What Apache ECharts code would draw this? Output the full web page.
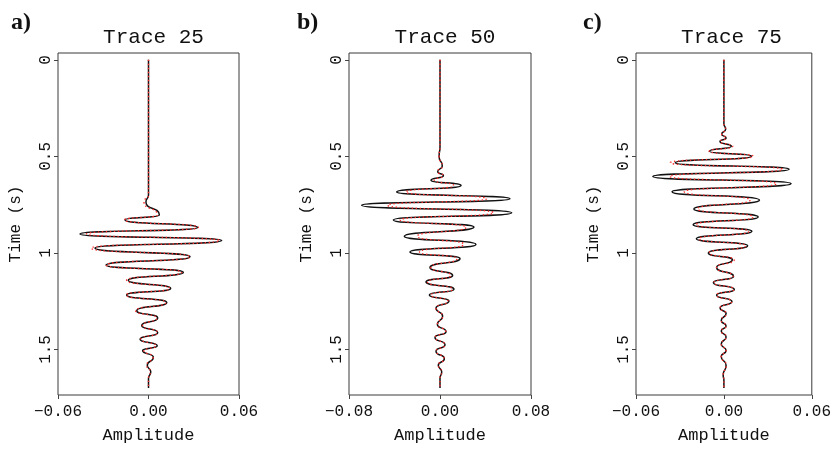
<!DOCTYPE html>
<html>
<head>
<meta charset="utf-8">
<script src="https://cdn.jsdelivr.net/npm/echarts@6/dist/echarts.min.js"></script>
<style>html,body{margin:0;padding:0;background:#fff}#c{width:834px;height:449px}</style>
</head>
<body>
<div id="c"></div>
<script>
// ---- data ----
const panelLetters = ['a)', 'b)', 'c)'];
const panelTitles = ['Trace 25', 'Trace 50', 'Trace 75'];
const timeTicks = [0, 0.5, 1, 1.5];
const ampTicksA = [-0.06, 0, 0.06];
const ampTicksB = [-0.08, 0, 0.08];
const ampTicksC = [-0.06, 0, 0.06];

const timeA = [0, 0.70, 0.736, 0.804, 0.829, 0.868, 0.902, 0.936, 0.975, 1.020, 1.063, 1.100, 1.142, 1.184, 1.218, 1.257, 1.299, 1.337, 1.376, 1.413, 1.447, 1.481, 1.506, 1.540, 1.582, 1.616, 1.65, 1.70];
const ampA  = [0, 0, -0.0017, 0.0072, -0.0156, 0.0326, -0.0454, 0.0485, -0.0355, 0.0275, -0.0282, 0.0231, -0.0134, 0.0147, -0.0145, 0.0121, -0.0078, 0.0061, -0.0045, 0.0061, -0.0056, 0.0058, -0.0039, 0.0032, -0.0008, 0.0015, 0, 0];
const redA  = [0, 0, -0.0030, 0.0058, -0.0160, 0.0330, -0.0410, 0.0470, -0.0380, 0.0275, -0.0280, 0.0220, -0.0145, 0.0140, -0.0148, 0.0115, -0.0085, 0.0055, -0.0040, 0.0060, -0.0050, 0.0050, -0.0030, 0.0030, -0.0012, 0.0012, 0, 0];

const timeB = [0, 0.45, 0.50, 0.55, 0.58, 0.60, 0.623, 0.651, 0.685, 0.719, 0.753, 0.792, 0.829, 0.866, 0.914, 0.956, 0.995, 1.029, 1.075, 1.117, 1.151, 1.188, 1.218, 1.249, 1.286, 1.328, 1.371, 1.408, 1.438, 1.476, 1.509, 1.548, 1.582, 1.616, 1.65, 1.70];
const ampB  = [0, 0, -0.0008, 0.0020, -0.0020, 0.0030, -0.0079, 0.0185, -0.0381, 0.0615, -0.0689, 0.0630, -0.0410, 0.0299, -0.0314, 0.0316, -0.0264, 0.0176, -0.0088, 0.0111, -0.0123, 0.0123, -0.0094, 0.0079, -0.0035, 0.0023, -0.0023, 0.0053, -0.0044, 0.0044, -0.0035, 0.0038, -0.0015, 0.0015, 0, 0];
const redB  = [0, 0, -0.0008, 0.0020, -0.0020, 0.0030, -0.0050, 0.0120, -0.0300, 0.0410, -0.0460, 0.0470, -0.0350, 0.0230, -0.0200, 0.0210, -0.0180, 0.0150, -0.0080, 0.0095, -0.0110, 0.0110, -0.0080, 0.0070, -0.0035, 0.0023, -0.0023, 0.0050, -0.0042, 0.0042, -0.0033, 0.0036, -0.0015, 0.0015, 0, 0];

const timeC = [0, 0.33, 0.36, 0.385, 0.405, 0.423, 0.448, 0.474, 0.499, 0.533, 0.567, 0.604, 0.641, 0.683, 0.726, 0.772, 0.814, 0.854, 0.888, 0.927, 0.963, 1.000, 1.036, 1.075, 1.122, 1.154, 1.189, 1.218, 1.252, 1.285, 1.314, 1.350, 1.379, 1.404, 1.435, 1.472, 1.506, 1.536, 1.582, 1.633, 1.66, 1.70];
const ampC  = [0, 0, 0.0012, -0.0015, 0.0015, -0.0027, 0.0051, -0.0099, 0.0188, -0.0332, 0.0445, -0.0485, 0.0459, -0.0354, 0.0243, -0.0205, 0.0234, -0.0210, 0.0191, -0.0188, 0.0162, -0.0106, 0.0058, -0.0050, 0.0066, -0.0072, 0.0071, -0.0050, 0.0055, -0.0026, 0.0015, -0.0018, 0.0015, -0.0018, 0.0015, -0.0018, 0.0015, -0.0018, 0.0015, -0.0005, 0, 0];
const redC  = [0, 0, 0.0012, -0.0015, 0.0015, -0.0027, 0.0060, -0.0100, 0.0200, -0.0365, 0.0400, -0.0370, 0.0360, -0.0270, 0.0180, -0.0180, 0.0200, -0.0190, 0.0170, -0.0170, 0.0150, -0.0100, 0.0070, -0.0050, 0.0062, -0.0068, 0.0068, -0.0050, 0.0052, -0.0026, 0.0015, -0.0018, 0.0015, -0.0018, 0.0015, -0.0018, 0.0015, -0.0018, 0.0015, -0.0005, 0, 0];

// ---- chart ----
const panels = [
  { left: 58, width: 181, range: 0.06, ticks: ampTicksA, t: timeA, black: ampA, red: redA },
  { left: 349, width: 182, range: 0.08, ticks: ampTicksB, t: timeB, black: ampB, red: redB },
  { left: 636, width: 181, range: 0.06, ticks: ampTicksC, t: timeC, black: ampC, red: redC }
];
const FONT = '"Liberation Mono", "DejaVu Sans Mono", monospace';
const grids = [], xAxes = [], yAxes = [], series = [], titles = [];
const fmtAmp = v => (v < 0 ? '\u2212' : '') + Math.abs(v).toFixed(2);
const fmtTime = v => String(v);

panels.forEach((p, i) => {
  grids.push({ left: p.left, top: 53, width: p.width, height: 349, show: true, borderColor: '#3a3a3a', borderWidth: 1, backgroundColor: 'transparent' });
  xAxes.push({
    type: 'value', gridIndex: i, min: -p.range, max: p.range, position: 'bottom',
    name: 'Amplitude', nameLocation: 'middle', nameGap: 32,
    nameTextStyle: { fontFamily: FONT, fontSize: 17, color: '#111' },
    axisLine: { show: false, onZero: false },
    splitLine: { show: false },
    axisTick: { show: true, length: 4, inside: false, customValues: p.ticks, lineStyle: { color: '#444' } },
    axisLabel: { show: true, margin: 9, customValues: p.ticks, formatter: fmtAmp, fontFamily: FONT, fontSize: 16, color: '#111', showMinLabel: true, showMaxLabel: true }
  });
  yAxes.push({
    type: 'value', gridIndex: i, inverse: true, min: -0.0355, max: 1.736, position: 'left',
    name: 'Time (s)', nameLocation: 'middle', nameGap: 34, nameRotate: 90,
    nameTextStyle: { fontFamily: FONT, fontSize: 16, color: '#111' },
    axisLine: { show: false, onZero: false },
    splitLine: { show: false },
    axisTick: { show: true, length: 4, customValues: timeTicks, lineStyle: { color: '#444' } },
    axisLabel: { show: true, rotate: 90, margin: 4, customValues: timeTicks, formatter: fmtTime, fontFamily: FONT, fontSize: 16, color: '#111' }
  });
  const blackData = p.t.map((tt, k) => [p.black[k], tt]);
  const redData = p.t.map((tt, k) => [p.red[k], tt]);
  series.push({
    type: 'line', xAxisIndex: i, yAxisIndex: i, data: blackData, showSymbol: false,
    smooth: 0.65, smoothMonotone: 'y', silent: true, animation: false,
    lineStyle: { color: '#111', width: 1.5 }
  });
  series.push({
    type: 'line', xAxisIndex: i, yAxisIndex: i, data: redData, showSymbol: false,
    smooth: 0.65, smoothMonotone: 'y', silent: true, animation: false,
    lineStyle: { color: '#ff2a2a', width: 1.4, type: [1.4, 2.6] }
  });
  titles.push({
    text: panelTitles[i], left: p.left + p.width / 2, top: 22, textAlign: 'center',
    textStyle: { fontFamily: FONT, fontSize: 21, fontWeight: 'normal', color: '#111' }
  });
  titles.push({
    text: panelLetters[i], left: [6, 292, 578][i], top: 6,
    textStyle: { fontFamily: '"Liberation Serif", "DejaVu Serif", serif', fontSize: 24, fontWeight: 'bold', color: '#111' }
  });
});

const chart = echarts.init(document.getElementById('c'), null, { renderer: 'canvas' });
chart.setOption({
  animation: false,
  title: titles,
  grid: grids,
  xAxis: xAxes,
  yAxis: yAxes,
  series: series
});
</script>
</body>
</html>
